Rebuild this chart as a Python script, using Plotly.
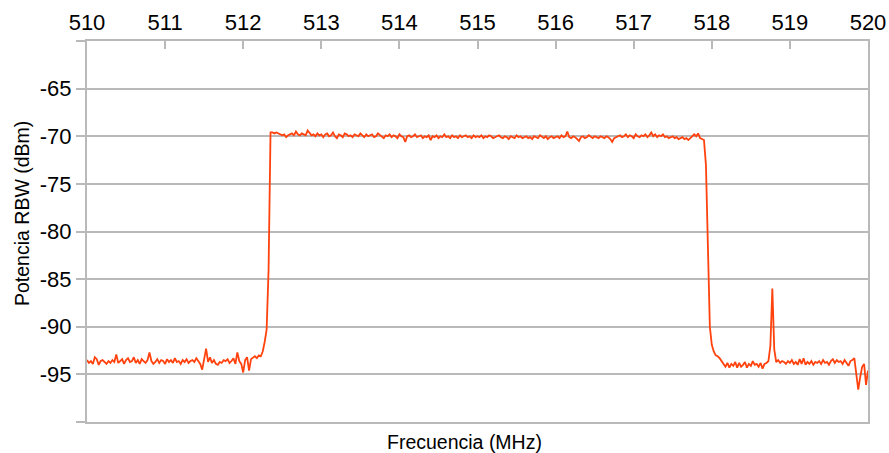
import numpy as np
import plotly.graph_objects as go

# ---- data ----
freq_start_mhz = 510.0
freq_stop_mhz = 520.0

floor_low = [
    -93.5, -93.8, -93.6, -93.9, -93.2, -93.4, -94.0, -93.6, -93.5, -93.7,
    -93.9, -93.6, -93.8, -93.5, -93.7, -92.9, -93.8, -93.6, -93.4, -93.9,
    -93.5, -93.3, -93.7, -93.6, -93.2, -93.8, -93.5, -93.9, -93.4, -93.6,
    -93.8, -93.5, -92.7, -93.6, -93.9, -93.7, -93.4, -93.8, -93.5, -93.6,
    -93.9, -93.4, -93.7, -93.5, -93.8, -93.3, -93.7, -93.6, -93.9, -93.5,
    -93.7, -93.4, -93.8, -93.6, -93.5, -93.7, -93.3, -93.6, -93.9, -94.5,
    -93.4, -92.3, -93.7, -93.2, -93.8, -93.5, -93.9, -94.0, -93.7, -93.8,
    -93.5, -93.6, -93.4, -93.8, -93.6, -93.3, -93.9, -92.7, -93.6, -93.9,
    -94.8, -93.5, -93.2, -94.6, -93.4, -93.2, -93.1, -93.3, -93.0, -93.1,
]
rise = [-92.6, -91.6, -90.3, -84.0, -69.6]
plateau = [
    -69.6, -69.7, -69.6, -69.7, -69.8, -69.9, -69.8, -70.1, -69.9, -69.8,
    -69.7, -69.9, -69.5, -69.8, -69.9, -69.7, -69.8, -69.9, -69.4, -69.7,
    -69.9, -69.8, -70.0, -69.7, -69.9, -69.8, -70.1, -69.8, -69.7, -70.0,
    -69.9, -69.6, -70.0, -70.2, -69.8, -69.9, -70.1, -69.7, -69.8, -70.0,
    -69.9, -70.1, -69.8, -69.9, -70.0, -69.7, -69.9, -70.1, -69.8, -70.0,
    -69.9, -69.8, -70.1, -70.0, -69.7, -69.9, -70.0, -70.2, -69.9, -70.0,
    -69.8, -70.1, -69.9, -70.0, -70.2, -69.8, -70.0, -70.1, -70.6, -70.0,
    -69.9, -70.1, -70.0, -69.8, -70.1, -70.0, -69.9, -70.2, -70.0, -70.1,
    -69.9, -70.4, -70.0, -70.1, -69.9, -70.2, -70.0, -70.1, -69.8, -70.1,
    -70.0, -70.2, -69.9, -70.1, -70.0, -70.2, -69.9, -70.1, -70.0, -69.9,
    -70.1, -70.0, -70.2, -69.9, -70.1, -70.0, -70.1, -69.9, -70.2, -70.0,
    -70.1, -69.9, -70.0, -70.2, -70.1, -70.0, -69.9, -70.1, -70.2, -70.0,
    -70.1, -70.3, -70.0, -70.1, -70.2, -69.9, -70.1, -70.0, -70.2, -70.1,
    -70.0, -70.2, -70.1, -70.3, -70.0, -70.1, -70.2, -69.9, -70.1, -70.2,
    -70.0, -70.3, -70.1, -70.0, -70.2, -70.1, -70.0, -70.2, -69.9, -70.1,
    -70.0, -69.5, -70.1, -70.2, -70.0, -70.1, -70.3, -70.5, -70.1, -70.0,
    -70.2, -70.1, -69.9, -70.1, -70.2, -70.0, -70.1, -70.2, -70.0, -70.1,
    -70.2, -70.0, -70.1, -70.3, -70.6, -70.2, -70.1, -70.0, -69.9, -70.1,
    -70.0, -69.8, -70.1, -69.9, -70.0, -70.2, -69.8, -70.0, -70.1, -69.9,
    -70.0, -69.8, -70.1, -69.9, -69.6, -70.0, -69.8, -70.1, -69.9, -70.0,
    -69.8, -70.1, -70.0, -70.2, -70.1, -70.0, -70.2, -70.1, -70.3, -70.2,
    -70.1, -70.3, -70.2, -70.4, -70.2, -70.1, -69.8, -70.0, -69.7, -70.2,
    -70.3,
]
fall = [-70.4, -73.0, -82.0, -90.0, -91.9, -92.6, -93.0, -93.1, -93.3]
floor_mid = [
    -93.6, -93.9, -94.2, -93.8, -94.3, -93.9, -94.1, -93.7, -94.3, -93.8,
    -94.2, -94.0, -93.7, -94.3, -93.9, -94.1, -93.6, -94.0, -93.9, -94.2,
    -93.8, -94.4, -93.9, -93.8,
]
spur = [-93.6, -92.0, -86.0, -92.4, -93.7]
floor_high = [
    -93.5, -93.8, -93.6, -93.7, -93.9, -93.6, -93.8, -93.5, -93.9, -93.7,
    -94.0, -93.4, -93.9, -93.3, -94.0, -93.7, -93.9, -93.6, -94.0, -93.7,
    -93.8, -93.6, -93.9, -93.5, -93.8, -93.7, -94.0, -93.6, -93.4, -93.8,
    -93.5, -93.7, -93.6, -93.9, -93.5, -93.8, -94.1, -93.6, -93.5,
]
band_edge = [-93.3, -95.0, -96.6, -95.3, -94.2, -93.9, -96.1, -94.6]

power_dbm = floor_low + rise + plateau + fall + floor_mid + spur + floor_high + band_edge
freq_mhz = np.linspace(freq_start_mhz, freq_stop_mhz, len(power_dbm))

x_ticks = list(range(510, 521))
y_ticks = [-100, -95, -90, -85, -80, -75, -70, -65, -60]
y_ticktext = ["", "-95", "-90", "-85", "-80", "-75", "-70", "-65", ""]

# ---- figure ----
W, H = 889, 453
L, R, T, B = 87, 21, 41, 31
grid = "#b9b9b9"
font = "Liberation Sans"

fig = go.Figure(
    go.Scatter(
        x=freq_mhz, y=power_dbm, mode="lines",
        line=dict(color="#ff420e", width=1.8),
        hoverinfo="skip",
    )
)

fig.update_layout(
    width=W, height=H,
    margin=dict(l=L, r=R, t=T, b=B, pad=0, autoexpand=False),
    paper_bgcolor="white", plot_bgcolor="white",
    showlegend=False,
    font=dict(family=font, size=22, color="#000000"),
)

fig.update_xaxes(
    side="top", range=[510, 520], automargin=False,
    tickmode="array", tickvals=x_ticks, ticktext=[str(v) for v in x_ticks],
    ticks="inside", ticklen=8, tickwidth=2, tickcolor=grid,
    showline=True, linecolor=grid, linewidth=2, mirror=True,
    showgrid=False, zeroline=False,
    tickfont=dict(family=font, size=22, color="#000000"),
)
fig.update_yaxes(
    range=[-100, -60], automargin=False,
    tickmode="array", tickvals=y_ticks, ticktext=y_ticktext,
    ticks="outside", ticklen=9, tickwidth=2, tickcolor=grid,
    showline=True, linecolor=grid, linewidth=2, mirror=True,
    showgrid=True, gridcolor=grid, gridwidth=2,
    zeroline=False,
    tickfont=dict(family=font, size=22, color="#000000"),
)

plot_h = H - T - B
plot_w = W - L - R
fig.add_annotation(
    text="Frecuencia (MHz)", xref="paper", yref="paper",
    x=(464.5 - L) / plot_w, y=-(442 - (H - B)) / plot_h,
    xanchor="center", yanchor="middle", showarrow=False,
    font=dict(family=font, size=19.5, color="#000000"),
)
fig.add_annotation(
    text="Potencia RBW (dBm)", xref="paper", yref="paper",
    x=-(L - 22) / plot_w, y=1 - (214 - T) / plot_h,
    xanchor="center", yanchor="middle", showarrow=False, textangle=-90,
    font=dict(family=font, size=19.5, color="#000000"),
)

fig.write_html("out.html")
